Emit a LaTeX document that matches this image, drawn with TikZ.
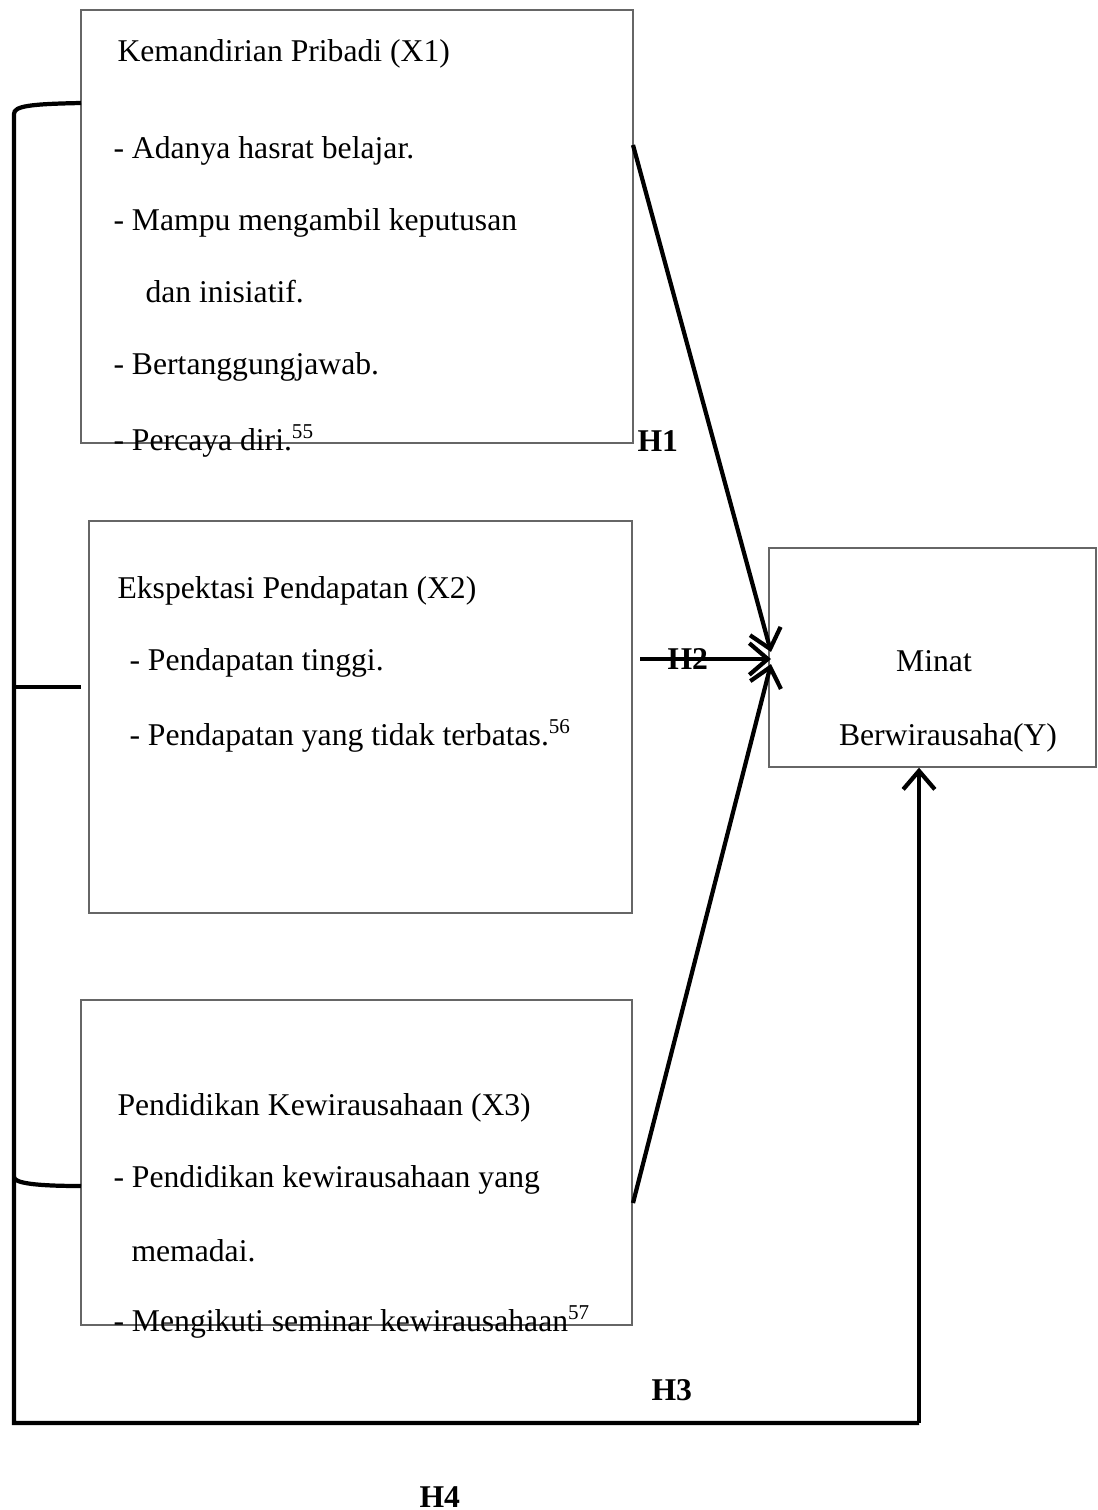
\documentclass[tikz,border=0pt]{standalone}
\usepackage{fontspec}
\setmainfont{Liberation Serif}
\usetikzlibrary{arrows.meta,fit}
\tikzset{
    box/.style={draw=black!60, line width=0.5pt, inner sep=0pt},
    txt/.style={anchor=mid west, inner sep=0pt, font=\fontsize{12pt}{14pt}\selectfont},
    ctxt/.style={anchor=mid, inner sep=0pt, font=\fontsize{12pt}{14pt}\selectfont},
    hlabel/.style={anchor=mid west, inner sep=0pt, font=\fontsize{12pt}{14pt}\selectfont\bfseries},
    bracket/.style={line width=1.6pt},
    link/.style={line width=1.6pt, -{Straight Barb[length=7pt,width=12pt]}}
}
\begin{document}
\begin{tikzpicture}[x=0.379pt,y=-0.379pt]
    \useasboundingbox (0,0) rectangle (1097,1510);

    % Draw boxes
    \node[box, fit={(81,10) (633,443)}] (x1) {};
    \node[box, fit={(89,521) (632,913)}] (x2) {};
    \node[box, fit={(81,1000) (632,1325)}] (x3) {};
    \node[box, fit={(769,548) (1096,767)}] (y) {};

    % Texts of X1
    \node[txt] (x1title) at (117,55) {Kemandirian Pribadi (X1)};
    \foreach \i/\yy/\line in {1/152/{- Adanya hasrat belajar.}, 2/224/{- Mampu mengambil keputusan},
        4/368/{- Bertanggungjawab.}, 5/444/{- Percaya diri.\textsuperscript{55}}} {
        \node[txt] (x1l\i) at (113,\yy) {\line};
    }
    \node[txt] (x1l3) at (145,296) {dan inisiatif.};

    % Texts of X2
    \node[txt] (x2title) at (117,592) {Ekspektasi Pendapatan (X2)};
    \node[txt] (x2l1) at (129,664) {- Pendapatan tinggi.};
    \node[txt] (x2l2) at (129,739) {- Pendapatan yang tidak terbatas.\textsuperscript{56}};

    % Texts of X3
    \node[txt] (x3title) at (117,1109) {Pendidikan Kewirausahaan (X3)};
    \node[txt] (x3l1) at (113,1181) {- Pendidikan kewirausahaan yang};
    \node[txt] (x3l2) at (131,1255) {memadai.};
    \node[txt] (x3l3) at (113,1325) {- Mengikuti seminar kewirausahaan\textsuperscript{57}};

    % Texts of Y
    \node[ctxt] (yl1) at (934,665) {Minat};
    \node[ctxt] (yl2) at (948,739) {Berwirausaha(Y)};

    % Hypotheses
    \node[hlabel] (h1) at (637,445) {H1};
    \node[hlabel] (h3) at (651,1394) {H3};
    \node[hlabel] (h4) at (419,1501) {H4};

    % Arrows to Y
    \coordinate (s1) at (633,145);
    \coordinate (s2) at (640,659);
    \coordinate (s3) at (633,1203);
    \coordinate (t1) at (771,652);
    \coordinate (t2) at (771,659);
    \coordinate (t3) at (771,664);
    \draw[link] (s1) -- (t1);
    \draw[link] (s3) -- (t3);
    \draw[link] (s2) -- (t2);
    \node[hlabel] (h2) at (667,663) {H2};

    % Left bracket and H4 path
    \coordinate (c1) at (14,1423);
    \coordinate (c2) at (919,1423);
    \draw[bracket] (81,103) .. controls (30,104) and (14,106) .. (14,114) -- (c1) -- (c2);
    \draw[link] (c2) -- (c2 |- y.south);
    \draw[bracket] (14,687) -- (81,687);
    \draw[bracket] (14,1177) .. controls (14,1183) and (35,1186) .. (81,1186);
\end{tikzpicture}
\end{document}
